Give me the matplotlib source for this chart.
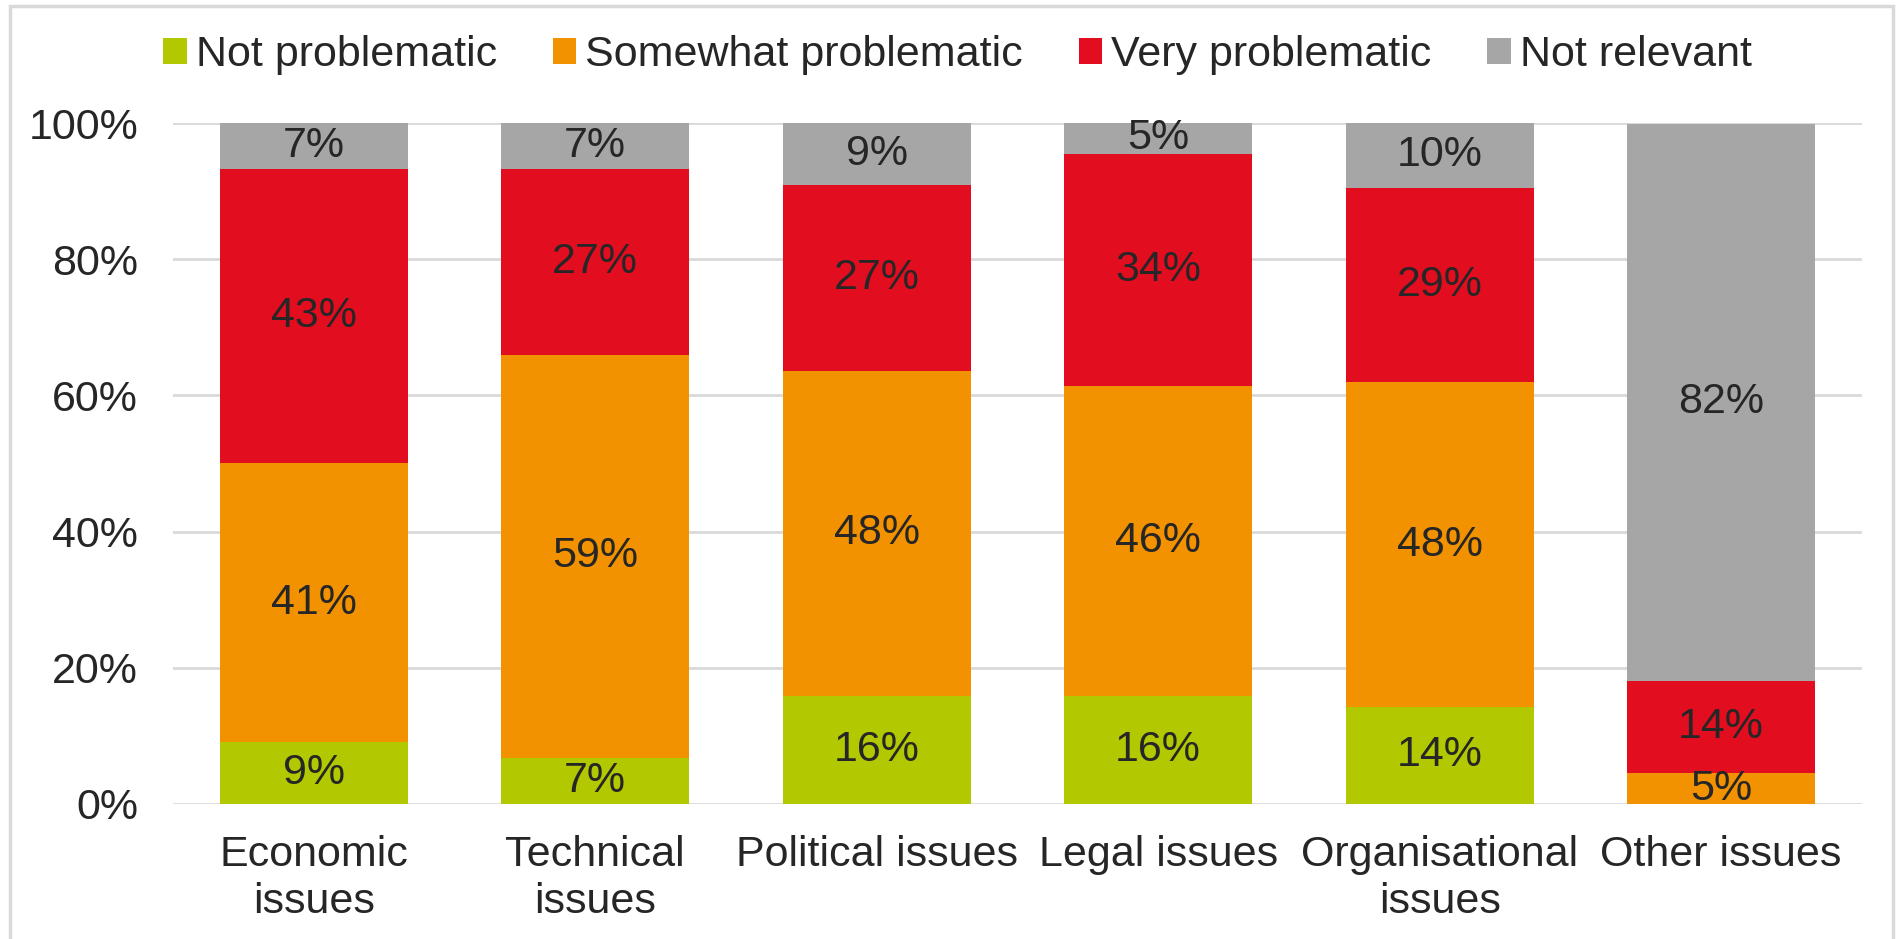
import matplotlib.pyplot as plt
from matplotlib.patches import Rectangle
import numpy as np

# Categories and shares (percent of respondents)
categories = ['Economic\nissues', 'Technical\nissues', 'Political issues',
              'Legal issues', 'Organisational\nissues', 'Other issues']
not_problematic = [9.1, 6.8, 15.9, 15.9, 14.3, 0.0]
somewhat_problematic = [40.9, 59.1, 47.7, 45.5, 47.6, 4.5]
very_problematic = [43.2, 27.3, 27.3, 34.1, 28.6, 13.6]
not_relevant = [6.8, 6.8, 9.1, 4.5, 9.5, 81.8]

series_names = ['Not problematic', 'Somewhat problematic', 'Very problematic', 'Not relevant']
series_colors = ['#b2c800', '#f39200', '#e30d20', '#a6a6a6']

plt.rcParams['font.family'] = ['Liberation Sans', 'DejaVu Sans']
text_color = '#262626'
fs = 31

fig = plt.figure(figsize=(18.96, 9.39), dpi=100)
ax = fig.add_axes([0.0912, 0.1438, 0.8908, 0.7252])

x = np.arange(len(categories))
bottom = np.zeros(len(categories))
for name, vals, col in zip(series_names,
                           [not_problematic, somewhat_problematic, very_problematic, not_relevant],
                           series_colors):
    vals = np.array(vals)
    ax.bar(x, vals, 0.667, bottom=bottom, color=col, label=name, zorder=2)
    for xi, b, v in zip(x, bottom, vals):
        if v > 0:
            ax.text(xi, b + v / 2, f'{int(v + 0.5)}%', ha='center', va='center',
                    fontsize=fs, color=text_color, zorder=3)
    bottom += vals

ax.set_xlim(-0.5, len(categories) - 0.5)
ax.set_ylim(0, 100)
ax.set_yticks(range(0, 101, 20))
ax.set_yticklabels([f'{v}%' for v in range(0, 101, 20)])
ax.set_xticks(x)
ax.set_xticklabels(categories, linespacing=1.24)
ax.tick_params(axis='both', length=0, labelsize=fs, labelcolor=text_color)
ax.tick_params(axis='y', pad=25)
ax.tick_params(axis='x', pad=22)
ax.yaxis.grid(True, color='#d9d9d9', linewidth=2, zorder=0)
ax.set_axisbelow(True)
for s in ax.spines.values():
    s.set_visible(False)

handles, labels = ax.get_legend_handles_labels()
fig.legend(handles, labels, loc='center', bbox_to_anchor=(0.505, 0.9415), ncol=4,
           frameon=False, fontsize=fs, handlelength=0.55, handleheight=0.55,
           handletextpad=0.2, columnspacing=1.3, labelcolor=text_color)

# light chart-area border (bottom edge is cut off in the original)
fig.patches.append(Rectangle((0.0053, -0.05), 0.9931, 1.0436, transform=fig.transFigure,
                             fill=False, edgecolor='#d9d9d9', linewidth=2.5))

fig.savefig('out.png', dpi=100)
